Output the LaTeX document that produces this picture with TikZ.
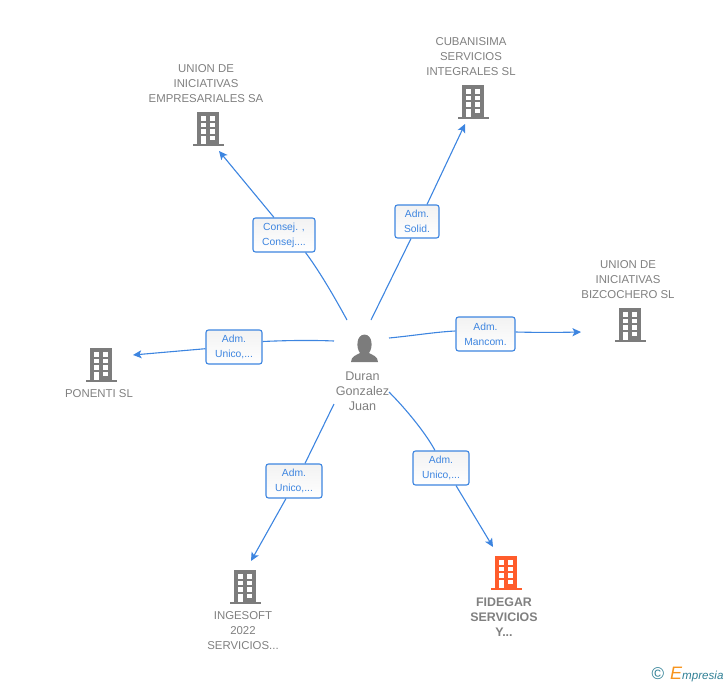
\documentclass[tikz,border=0pt]{standalone}
\usepackage{fontspec}
\setmainfont{Liberation Sans}
\usetikzlibrary{arrows.meta}
\definecolor{edgeblue}{HTML}{3D85E0}
\definecolor{txtgrey}{HTML}{808080}
\definecolor{icongrey}{HTML}{7C7C7C}
\definecolor{hot}{HTML}{FF5C2B}
\definecolor{logoteal}{HTML}{2F7F95}
\definecolor{logoorange}{HTML}{F7941D}
\tikzset{
 x=1pt,y=-1pt,
 lnk/.style={draw=edgeblue,line width=1.1pt},
 arr/.style={lnk,-{Stealth[length=8.5pt,width=8pt,inset=2pt]}},
 tagbox/.style={draw=edgeblue,top color=black!5,bottom color=white,rounded corners=2.5pt,line width=1.1pt,align=center,
   text=edgeblue,font=\fontsize{10.3}{15}\selectfont,inner sep=0pt},
 captxt/.style={text=txtgrey,align=center,font=\fontsize{11.4}{15}\selectfont,inner sep=0pt},
 pics/bldg/.style={code={
   \fill[#1] (-11,-17) rectangle (11,15);
   \fill[#1] (-15.5,15) rectangle (15.5,17);
   \foreach \yy in {-13,-6.5,0}{
     \fill[white] (-7,\yy) rectangle (-2,{\yy+4.5});
     \fill[white] (2,\yy) rectangle (7,{\yy+4.5});}
   \fill[white] (-7,6.5) rectangle (-2,15);
   \fill[white] (2,6.5) rectangle (7,11);
 }}
}
\begin{document}
\begin{tikzpicture}
\useasboundingbox (0,0) rectangle (728,685);
% centre person
\node[captxt,font=\fontsize{12.6}{15}\selectfont] (center) at (362.5,391) {Duran\\Gonzalez\\Juan};
\fill[icongrey] (351,362) .. controls (351,356) and (357,355) .. (360,353)
  .. controls (356,348) and (356,335) .. (364.5,334.5)
  .. controls (373,335) and (373,348) .. (369,353)
  .. controls (372,355) and (378,356) .. (378,362) -- cycle;
% buildings
\pic at (208,129) {bldg=icongrey};
\pic at (473,102) {bldg=icongrey};
\pic at (630,325) {bldg=icongrey};
\pic at (101,365) {bldg=icongrey};
\pic at (245,587) {bldg=icongrey};
\pic at (506,573) {bldg=hot};
% captions
\node[captxt] (n1) at (206,83.5) {UNION DE\\INICIATIVAS\\EMPRESARIALES SA};
\node[captxt] (n2) at (471,56.5) {CUBANISIMA\\SERVICIOS\\INTEGRALES SL};
\node[captxt] (n3) at (628,279.5) {UNION DE\\INICIATIVAS\\BIZCOCHERO SL};
\node[captxt] (n4) at (99,394) {PONENTI SL};
\node[captxt] (n5) at (243,631) {INGESOFT\\2022\\SERVICIOS...};
\node[captxt,font=\fontsize{12.4}{15}\selectfont\bfseries] (n6) at (504,617) {FIDEGAR\\SERVICIOS\\Y...};
% tags
\node[tagbox,minimum width=62pt,minimum height=34pt] (t1) at (284,235) {Consej. ,\\Consej....};
\node[tagbox,minimum width=44pt,minimum height=33pt] (t2) at (417,221.5) {Adm.\\Solid.};
\node[tagbox,minimum width=59pt,minimum height=34pt] (t3) at (485.5,334) {Adm.\\Mancom.};
\node[tagbox,minimum width=56pt,minimum height=34pt] (t4) at (234,347) {Adm.\\Unico,...};
\node[tagbox,minimum width=56pt,minimum height=34pt] (t5) at (294,481) {Adm.\\Unico,...};
\node[tagbox,minimum width=56pt,minimum height=34pt] (t6) at (441,468) {Adm.\\Unico,...};
% connector ends
\coordinate (s1) at (347,320); \coordinate (e1) at (219,151);
\coordinate (s2) at (371,320); \coordinate (e2) at (465,124);
\coordinate (s3) at (389,338); \coordinate (e3) at (581,332);
\coordinate (s4) at (334,341); \coordinate (e4) at (133,355);
\coordinate (s5) at (334,404); \coordinate (e5) at (251,561);
\coordinate (s6) at (389,392); \coordinate (e6) at (493,547);
% connectors
\draw[lnk] (s1) .. controls (335,298) and (320,272) .. ([xshift=-10pt]t1.south east);
\draw[arr] ([xshift=-10pt]t1.north) -- (e1);
\draw[lnk] (s2) -- ([xshift=-6pt]t2.south);
\draw[arr] ([xshift=10pt]t2.north) -- (e2);
\draw[lnk] (s3) .. controls (415,335.5) and (435,332) .. ([yshift=3pt]t3.west);
\draw[arr] ([yshift=2pt]t3.east) .. controls (535,332.5) and (555,332.5) .. (e3);
\draw[lnk] (s4) .. controls (310,340) and (285,340.5) .. ([yshift=5.5pt]t4.east);
\draw[arr] ([yshift=-1.7pt]t4.west) -- (e4);
\draw[lnk] (s5) -- ([xshift=11pt]t5.north);
\draw[arr] ([xshift=-8pt]t5.south) -- (e5);
\draw[lnk] (s6) .. controls (405,408) and (425,432) .. ([xshift=-6pt]t6.north);
\draw[arr] ([xshift=15pt]t6.south) -- (e6);
% logo
\node[inner sep=0pt,text=logoteal,font=\fontsize{17}{17}\selectfont] (copyr) at (658,674) {©};
\node[inner sep=0pt,anchor=west,font=\itshape\fontsize{11.6}{14}\selectfont,text=logoteal] (logo) at (670,675)
 {\textcolor{logoorange}{\fontsize{18}{14}\selectfont E}mpresia};
\end{tikzpicture}
\end{document}
